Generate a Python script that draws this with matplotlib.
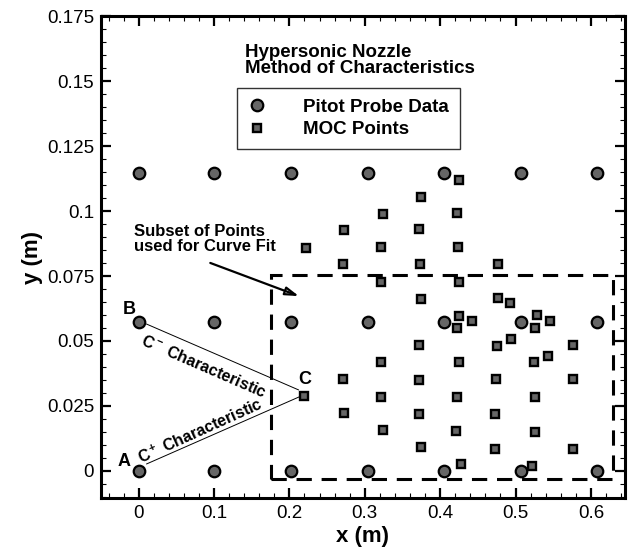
"""
Hypersonic nozzle: pitot probe survey locations overlaid on
method-of-characteristics grid points.
"""

import matplotlib
matplotlib.use("Agg")
import matplotlib.pyplot as plt
from matplotlib.patches import Rectangle
from matplotlib.ticker import MultipleLocator

plt.rcParams["font.family"] = ["Liberation Sans", "DejaVu Sans"]
plt.rcParams["mathtext.fontset"] = "custom"
plt.rcParams["mathtext.rm"] = "Liberation Sans:bold"
plt.rcParams["mathtext.it"] = "Liberation Sans:bold"
plt.rcParams["mathtext.bf"] = "Liberation Sans:bold"

# pitot rake stations (m)
pitot_x_stations = [0.0, 0.1, 0.202, 0.304, 0.405, 0.507, 0.608]
pitot_y_stations = [0.0, 0.0573, 0.1146]

# MOC grid points (m)
moc_x = [0.222, 0.272, 0.271, 0.425, 0.374, 0.324, 0.422, 0.372, 0.321, 0.424,
         0.373, 0.321, 0.425, 0.374, 0.477, 0.477, 0.492, 0.220, 0.271, 0.272,
         0.425, 0.442, 0.422, 0.372, 0.321, 0.425, 0.372, 0.321, 0.422, 0.372,
         0.324, 0.421, 0.375, 0.427, 0.528, 0.546, 0.526, 0.494, 0.475, 0.576,
         0.543, 0.524, 0.474, 0.576, 0.526, 0.473, 0.526, 0.473, 0.576, 0.522]
moc_y = [0.0858, 0.0927, 0.0796, 0.1120, 0.1054, 0.0988, 0.0992, 0.0931, 0.0862, 0.0862,
         0.0796, 0.0727, 0.0727, 0.0662, 0.0796, 0.0665, 0.0646, 0.0288, 0.0354, 0.0223,
         0.0596, 0.0577, 0.0550, 0.0485, 0.0419, 0.0419, 0.0350, 0.0285, 0.0285, 0.0219,
         0.0158, 0.0154, 0.0092, 0.0027, 0.0600, 0.0577, 0.0550, 0.0508, 0.0481, 0.0485,
         0.0442, 0.0419, 0.0354, 0.0354, 0.0285, 0.0219, 0.0150, 0.0085, 0.0085, 0.0019]

# curve-fit subset window (x0, y0, x1, y1)
subset_box = (0.175, -0.003, 0.629, 0.0755)

pitot_x = [x for y in pitot_y_stations for x in pitot_x_stations]
pitot_y = [y for y in pitot_y_stations for x in pitot_x_stations]

point_a = (pitot_x_stations[0], pitot_y_stations[0])
point_b = (pitot_x_stations[0], pitot_y_stations[1])
point_c = (moc_x[17], moc_y[17])

fig = plt.figure(figsize=(6.35, 5.47), dpi=100)
ax = fig.add_axes([0.159, 0.0896, 0.825, 0.881])

fill = "#666666"
ax.plot(pitot_x, pitot_y, "o", ms=8.3, mfc=fill, mec="black", mew=1.6,
        label="Pitot Probe Data", zorder=4)
ax.plot(moc_x, moc_y, "s", ms=5.5, mfc=fill, mec="black", mew=1.7,
        label="MOC Points", zorder=4)

# characteristic lines A->C and B->C
ax.plot([0.0106, 0.213], [0.0027, 0.0285], color="black", lw=0.7, zorder=3)
ax.plot([0.0106, 0.212], [0.0565, 0.0312], color="black", lw=0.7, zorder=3)

ax.text(0.086, 0.0402, "C$^-$ Characteristic", fontsize=11.5, fontweight="bold",
        rotation=-23.5, ha="center", va="center", rotation_mode="anchor")
ax.text(0.082, 0.0152, "C$^+$ Characteristic", fontsize=11.5, fontweight="bold",
        rotation=24.4, ha="center", va="center", rotation_mode="anchor")

ax.text(point_a[0] - 0.020, point_a[1] + 0.0035, "A", fontsize=13,
        fontweight="bold", ha="center", va="center")
ax.text(point_b[0] - 0.012, point_b[1] + 0.0047, "B", fontsize=13,
        fontweight="bold", ha="center", va="center")
ax.text(point_c[0], point_c[1] + 0.0065, "C", fontsize=13,
        fontweight="bold", ha="center", va="center")

x0, y0, x1, y1 = subset_box
ax.add_patch(Rectangle((x0, y0), x1 - x0, y1 - y0, fill=False, ec="black",
                       lw=2.2, ls=(0, (5, 3.2)), zorder=2))

ax.annotate("", xy=(0.216, 0.0669), xytext=(0.0916, 0.0804),
            arrowprops=dict(arrowstyle="-|>,head_length=0.8,head_width=0.25",
                            color="black", lw=1.6, fill=False))
ax.text(-0.0065, 0.0833, "Subset of Points\nused for Curve Fit", fontsize=12,
        fontweight="bold", ha="left", va="bottom", linespacing=1.0)

ax.text(0.141, 0.1580, "Hypersonic Nozzle\nMethod of Characteristics",
        fontsize=13.5, fontweight="bold", ha="left", va="center",
        linespacing=0.92)

leg = ax.legend(loc="upper left", bbox_to_anchor=(0.2595, 0.8506),
                frameon=True, fancybox=False, edgecolor="black",
                prop={"weight": "bold", "size": 13.5}, handlelength=1.0,
                handletextpad=2.0, borderpad=0.55, labelspacing=0.3,
                borderaxespad=0.0)
leg.get_frame().set_linewidth(1.0)

ax.set_xlim(-0.05, 0.645)
ax.set_ylim(-0.0104, 0.175)
ax.xaxis.set_major_locator(MultipleLocator(0.1))
ax.xaxis.set_minor_locator(MultipleLocator(0.02))
ax.yaxis.set_major_locator(MultipleLocator(0.025))
ax.yaxis.set_minor_locator(MultipleLocator(0.005))
ax.set_xticks([0, 0.1, 0.2, 0.3, 0.4, 0.5, 0.6])
ax.set_xticklabels(["0", "0.1", "0.2", "0.3", "0.4", "0.5", "0.6"])
ax.set_yticks([0, 0.025, 0.05, 0.075, 0.1, 0.125, 0.15, 0.175])
ax.set_yticklabels(["0", "0.025", "0.05", "0.075", "0.1", "0.125", "0.15", "0.175"])

ax.tick_params(which="both", direction="in", top=True, right=True,
               labelsize=13.5)
ax.tick_params(which="major", length=7, width=1.6, pad=5)
ax.tick_params(which="minor", length=3.5, width=0.8)
for spine in ax.spines.values():
    spine.set_linewidth(2.2)

ax.set_xlabel("x (m)", fontsize=16, fontweight="bold", labelpad=3)
ax.set_ylabel("y (m)", fontsize=16, fontweight="bold", labelpad=3)

fig.savefig("out.png", dpi=100)
